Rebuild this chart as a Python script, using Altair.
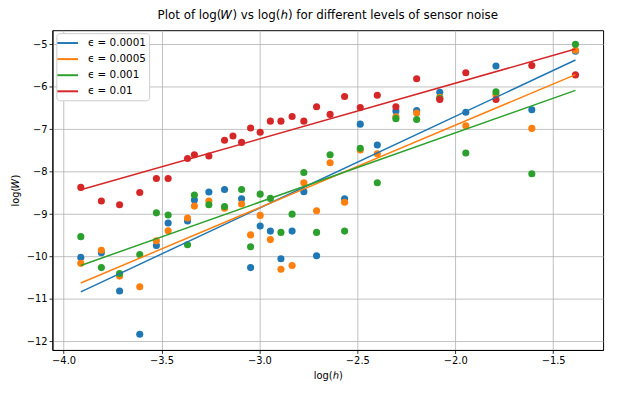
import altair as alt
import pandas as pd

# x positions: log(h)
log_h = [-3.912, -3.807, -3.714, -3.611, -3.526, -3.466, -3.367, -3.332, -3.258, -3.178,
         -3.135, -3.091, -3.045, -2.996, -2.944, -2.890, -2.833, -2.773, -2.708, -2.639,
         -2.565, -2.485, -2.398, -2.303, -2.197, -2.079, -1.946, -1.792, -1.609, -1.386]

# log(W) values for each noise level (None = no visible point)
w_0001 = [-10.02, -9.91, -10.81, -11.83, -9.74, -9.21, -9.16, -8.67, -8.48, -8.42,
          None, -8.64, -10.26, -9.28, -9.40, -10.05, -9.40, -8.47, -9.98, None,
          -8.64, -6.88, -7.37, -6.57, -6.56, -6.13, -6.60, -5.51, -6.54, -5.16]
w_0005 = [-10.16, -9.85, -10.46, -10.71, -9.63, -9.39, -9.09, -8.81, -8.69, -8.86,
          None, -8.76, -9.49, -9.03, -9.60, -10.30, -10.21, -8.26, -8.92, -7.79,
          -8.72, -7.49, -7.58, -6.71, -6.62, -6.25, -6.92, -6.19, -6.98, -5.14]
w_001 = [-9.53, -10.26, -10.40, -9.95, -8.97, -9.02, -9.72, -8.55, -8.78, -8.82,
         None, -8.42, -9.77, -8.53, -8.63, -9.43, -9.00, -8.02, -9.43, -7.60,
         -9.40, -7.45, -8.26, -6.75, -6.77, -6.27, -7.56, -6.12, -8.05, -5.00]
w_01 = [-8.37, -8.69, -8.78, -8.49, -8.16, -8.16, -7.69, -7.60, -7.63, -7.26,
        -7.16, -7.31, -6.97, -7.07, -6.81, -6.81, -6.70, -6.81, -6.47, -6.65,
        -6.23, -6.49, -6.20, -6.47, -5.81, -6.30, -5.67, -6.30, -5.50, -5.72]

labels = ["ϵ = 0.0001", "ϵ = 0.0005", "ϵ = 0.001", "ϵ = 0.01"]
colors = ["#1f77b4", "#ff7f0e", "#2ca02c", "#d62728"]

rows = []
for lab, series in zip(labels, [w_0001, w_0005, w_001, w_01]):
    for x, y in zip(log_h, series):
        if y is not None:
            rows.append({"log_h": x, "log_W": y, "eps": lab})
df = pd.DataFrame(rows)

xscale = alt.Scale(domain=[-4.057, -1.245], nice=False, zero=False)
yscale = alt.Scale(domain=[-12.2, -4.667], nice=False, zero=False)
cscale = alt.Scale(domain=labels, range=colors)

xaxis = alt.Axis(values=[-4.0, -3.5, -3.0, -2.5, -2.0, -1.5], format=".1f", title="log(ℎ)")
yaxis = alt.Axis(values=[-12, -11, -10, -9, -8, -7, -6, -5], format="d", title="log(𝑊)")

legend = alt.Legend(
    title=None, orient="none", legendX=4, legendY=3, padding=3,
    symbolType="M-1.5,0H2", symbolSize=144, symbolStrokeWidth=2,
    symbolFillColor="transparent",
    labelOffset=15, labelFontSize=10.5, rowPadding=3.3,
    fillColor="white", strokeColor="#cccccc", cornerRadius=3,
    labelFont="DejaVu Sans", labelColor="black",
)

base = alt.Chart(df)

points = base.mark_circle(size=52, opacity=1).encode(
    x=alt.X("log_h:Q", scale=xscale, axis=xaxis),
    y=alt.Y("log_W:Q", scale=yscale, axis=yaxis),
    color=alt.Color("eps:N", scale=cscale, sort=labels, legend=legend),
)

lines = base.transform_regression(
    "log_h", "log_W", groupby=["eps"]
).mark_line(strokeWidth=1.5).encode(
    x=alt.X("log_h:Q", scale=xscale),
    y=alt.Y("log_W:Q", scale=yscale),
    color=alt.Color("eps:N", scale=cscale, sort=labels, legend=legend),
)

chart = alt.layer(points, lines).properties(
    width=558, height=324,
    title=alt.Title("Plot of log(𝑊) vs log(ℎ) for different levels of sensor noise",
                    fontSize=12, fontWeight="normal", font="DejaVu Sans", color="black",
                    anchor="middle", offset=8),
    padding={"left": 45, "top": 20, "right": 7, "bottom": 33},
    autosize=alt.AutoSizeParams(type="none"),
).configure_view(
    stroke="black", strokeWidth=1
).configure_axis(
    grid=True, gridColor="#b0b0b0", gridWidth=0.8,
    domainColor="black", domainWidth=1,
    tickColor="black", tickSize=3.5, tickWidth=0.8,
    labelFont="DejaVu Sans", labelFontSize=10, labelColor="black",
    titleFont="DejaVu Sans", titleFontSize=10, titleFontWeight="normal", titleColor="black",
    labelPadding=2,
).configure_axisX(titlePadding=5).configure_axisY(titlePadding=6)

chart.save("out.html", embed_options={"renderer": "svg", "actions": False})
